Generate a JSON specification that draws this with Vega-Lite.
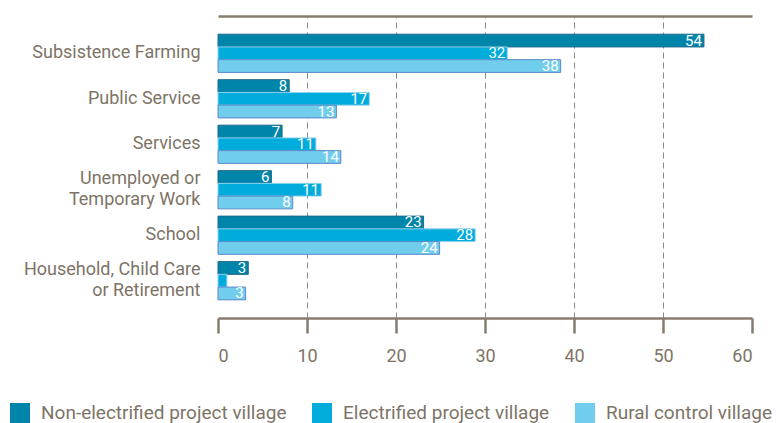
{
  "$schema": "https://vega.github.io/schema/vega-lite/v6.json",
  "width": 534,
  "height": 302,
  "autosize": {"type": "none"},
  "padding": {"left": 218, "top": 16, "right": 24, "bottom": 105},
  "config": {"view": {"stroke": null}, "font": "Roboto"},
  "data": {
    "values": [
      {"category": "Subsistence Farming", "series": "Non-electrified project village", "value": 54.6, "label": "54"},
      {"category": "Subsistence Farming", "series": "Electrified project village", "value": 32.5, "label": "32"},
      {"category": "Subsistence Farming", "series": "Rural control village", "value": 38.5, "label": "38"},
      {"category": "Public Service", "series": "Non-electrified project village", "value": 8.0, "label": "8"},
      {"category": "Public Service", "series": "Electrified project village", "value": 17.0, "label": "17"},
      {"category": "Public Service", "series": "Rural control village", "value": 13.3, "label": "13"},
      {"category": "Services", "series": "Non-electrified project village", "value": 7.2, "label": "7"},
      {"category": "Services", "series": "Electrified project village", "value": 11.0, "label": "11"},
      {"category": "Services", "series": "Rural control village", "value": 13.8, "label": "14"},
      {"category": "Unemployed or Temporary Work", "series": "Non-electrified project village", "value": 6.0, "label": "6"},
      {"category": "Unemployed or Temporary Work", "series": "Electrified project village", "value": 11.6, "label": "11"},
      {"category": "Unemployed or Temporary Work", "series": "Rural control village", "value": 8.4, "label": "8"},
      {"category": "School", "series": "Non-electrified project village", "value": 23.1, "label": "23"},
      {"category": "School", "series": "Electrified project village", "value": 28.9, "label": "28"},
      {"category": "School", "series": "Rural control village", "value": 24.9, "label": "24"},
      {"category": "Household, Child Care or Retirement", "series": "Non-electrified project village", "value": 3.4, "label": "3"},
      {"category": "Household, Child Care or Retirement", "series": "Electrified project village", "value": 1.0, "label": ""},
      {"category": "Household, Child Care or Retirement", "series": "Rural control village", "value": 3.1, "label": "3"}
    ]
  },
  "encoding": {
    "y": {
      "field": "category",
      "type": "nominal",
      "sort": ["Subsistence Farming", "Public Service", "Services", "Unemployed or Temporary Work", "School", "Household, Child Care or Retirement"],
      "scale": {"paddingInner": 0.16, "paddingOuter": 0.4},
      "axis": {
        "title": null,
        "domain": false,
        "ticks": false,
        "grid": false,
        "labelFontSize": 18,
        "labelColor": "#7d7466",
        "labelPadding": 18,
        "labelLineHeight": 21,
        "labelLimit": 220,
        "labelOffset": {"condition": {"test": "datum.value == 'Unemployed or Temporary Work' || datum.value == 'Household, Child Care or Retirement'", "value": -10.5}, "value": 0},
        "labelExpr": "datum.label == 'Unemployed or Temporary Work' ? ['Unemployed or', 'Temporary Work'] : datum.label == 'Household, Child Care or Retirement' ? ['Household, Child Care', 'or Retirement'] : datum.label"
      }
    },
    "yOffset": {
      "field": "series",
      "type": "nominal",
      "sort": ["Non-electrified project village", "Electrified project village", "Rural control village"],
      "scale": {"paddingInner": 0, "paddingOuter": 0}
    },
    "x": {
      "field": "value",
      "type": "quantitative",
      "scale": {"domain": [0, 60], "nice": false}
    }
  },
  "layer": [
    {
      "mark": {"type": "bar", "strokeWidth": 1},
      "encoding": {
        "x": {
          "field": "value",
          "type": "quantitative",
          "axis": {
            "orient": "bottom",
            "title": null,
            "values": [0, 10, 20, 30, 40, 50, 60],
            "domainColor": "#857c6e",
            "domainWidth": 2.5,
            "tickColor": "#857c6e",
            "tickWidth": 2.5,
            "tickSize": 15,
            "labelFontSize": 18,
            "labelColor": "#7d7466",
            "labelPadding": 14,
            "grid": true,
            "gridDash": [6, 4],
            "gridColor": "#8a8a8a",
            "gridWidth": 1,
            "gridOpacity": {"condition": {"test": "datum.value > 0 && datum.value < 60", "value": 1}, "value": 0}
          }
        },
        "color": {
          "field": "series",
          "type": "nominal",
          "sort": ["Non-electrified project village", "Electrified project village", "Rural control village"],
          "scale": {"range": ["#0085aa", "#00acdc", "#70cdeb"]},
          "legend": {
            "title": null,
            "orient": "none",
            "legendX": -208,
            "legendY": 387,
            "direction": "horizontal",
            "symbolType": "square",
            "symbolSize": 400,
            "symbolStrokeWidth": 0,
            "symbolOpacity": 1,
            "labelFontSize": 19,
            "labelColor": "#7d7466",
            "labelOffset": 11,
            "columnPadding": 25,
            "labelLimit": 300
          }
        },
        "stroke": {
          "field": "series",
          "type": "nominal",
          "sort": ["Non-electrified project village", "Electrified project village", "Rural control village"],
          "scale": {"range": ["#1d6a8a", "#8fd3ee", "#5a88c8"]},
          "legend": null
        }
      }
    },
    {
      "mark": {"type": "text", "align": "right", "baseline": "middle", "dx": -2, "color": "white", "fontSize": 15},
      "encoding": {
        "text": {"field": "label"},
        "x": {
          "field": "value",
          "type": "quantitative",
          "axis": {
            "orient": "top",
            "title": null,
            "labels": false,
            "ticks": false,
            "grid": false,
            "domainColor": "#857c6e",
            "domainWidth": 2.5
          }
        }
      }
    }
  ],
  "resolve": {"axis": {"x": "independent"}}
}
